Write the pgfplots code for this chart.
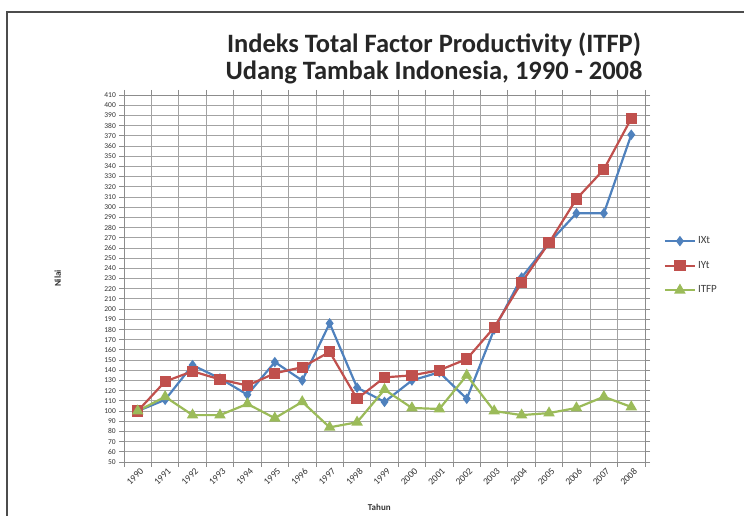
\documentclass[border=0pt]{standalone}
\usepackage{fontspec}
\setmainfont{Carlito}
\usepackage{pgfplots}
\pgfplotsset{compat=1.18}
\usepackage{pgfplotstable}
\definecolor{xblue}{HTML}{4F81BD}
\definecolor{xred}{HTML}{C0504D}
\definecolor{xgreen}{HTML}{9BBB59}
\definecolor{xgrid}{HTML}{8C8C8C}

\pgfplotstableread{
x IXt IYt ITFP
0 100 100 100
1 111 129 114
2 145 139 96
3 132 131 96
4 116 125 107
5 148 137 93
6 130 143 109
7 186 158 84
8 123 112 89
9 109 133 121
10 130 135 103
11 138 140 102
12 112 151 135
13 180 182 100
14 231 226 96
15 265 265 98
16 294 308 103
17 294 337 114
18 371 387 104
}\datatable

\begin{document}
\begin{tikzpicture}[x=1pt,y=1pt]
\useasboundingbox (0,0) rectangle (744,516);
\draw[line width=2pt, black!70] (7,0) -- (7,504) -- (744,504);
\node[font=\bfseries\fontsize{26.5}{30}\selectfont, black!85] at (434,471) {Indeks Total Factor Productivity (ITFP)};
\node[font=\bfseries\fontsize{26.5}{30}\selectfont, black!85] at (434,444) {Udang Tambak Indonesia, 1990 - 2008};
\begin{axis}[
  at={(124pt,54pt)}, anchor=south west,
  scale only axis, width=521pt, height=367pt,
  xmin=-0.5, xmax=18.5, ymin=50, ymax=410,
  xtick={0,...,18},
  xticklabels={1990,1991,1992,1993,1994,1995,1996,1997,1998,1999,2000,2001,2002,2003,2004,2005,2006,2007,2008},
  minor xtick={-0.5,0.5,...,18.5},
  major x tick style={draw=none},
  xminorgrids=true,
  ytick={50,60,...,410},
  ymajorgrids=true,
  tick align=outside,
  major tick length=5pt, minor tick length=5pt,
  tick style={xgrid, line width=0.8pt},
  grid style={xgrid!80, line width=0.8pt},
  minor grid style={xgrid!80, line width=0.8pt},
  axis line style={xgrid, line width=0.8pt},
  /pgf/number format/assume math mode=true,
  /pgf/number format/set thousands separator={},
  xticklabel style={rotate=45, anchor=east, inner sep=0pt, font=\fontsize{9.5}{10}\selectfont, xshift=1pt, yshift=-5pt, black!80},
  yticklabel style={font=\fontsize{7.5}{8}\selectfont, inner sep=0pt, xshift=-3pt, black!80},
  xlabel={Tahun},
  xlabel style={at={(axis description cs:0.49,0)}, anchor=north, yshift=-39pt, font=\bfseries\fontsize{9}{11}\selectfont, black!80},
  ylabel={Nilai},
  ylabel style={at={(axis description cs:-0.127,0.5)}, anchor=center, font=\bfseries\fontsize{9}{11}\selectfont, black!80},
  legend style={at={(rel axis cs:1.03,0.625)}, anchor=north west, draw=none, fill=none,
    font=\fontsize{11}{12}\selectfont, row sep=12pt, text=black!75},
  legend cell align=left,
  legend image code/.code={\draw[mark repeat=2,mark phase=2,#1] plot coordinates {(0pt,0pt) (15pt,0pt) (30pt,0pt)};},
]
\addplot[xblue, line width=2.2pt, mark=diamond*, mark size=3.5pt, mark options={solid}] table[x=x,y=IXt] {\datatable};
\addlegendentry{IXt}
\addplot[xred, line width=2.2pt, mark=square*, mark size=4.5pt, mark options={solid}] table[x=x,y=IYt] {\datatable};
\addlegendentry{IYt}
\addplot[xgreen, line width=2.2pt, mark=triangle*, mark size=4.5pt, mark options={solid}] table[x=x,y=ITFP] {\datatable};
\addlegendentry{ITFP}
\end{axis}
\end{tikzpicture}
\end{document}
